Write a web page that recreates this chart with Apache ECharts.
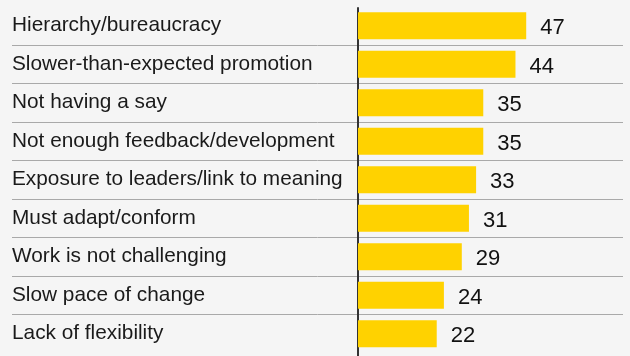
<!DOCTYPE html>
<html>
<head>
<meta charset="utf-8">
<script src="https://cdn.jsdelivr.net/npm/echarts@6/dist/echarts.min.js"></script>
<style>
  html, body { margin: 0; padding: 0; background: #f5f5f5; }
  #chart { width: 630px; height: 356px; }
</style>
</head>
<body>
<div id="chart"></div>
<script>
// Reasons given, top to bottom
const reasons = [
  'Hierarchy/bureaucracy',
  'Slower-than-expected promotion',
  'Not having a say',
  'Not enough feedback/development',
  'Exposure to leaders/link to meaning',
  'Must adapt/conform',
  'Work is not challenging',
  'Slow pace of change',
  'Lack of flexibility'
];
// Share of respondents (%)
const shares = [47, 44, 35, 35, 33, 31, 29, 24, 22];

const chart = echarts.init(document.getElementById('chart'), null, { renderer: 'canvas' });

const rowTop = 6.5;
const rowsHeight = 346.5;
const font = '"Liberation Sans", Arial, Helvetica, sans-serif';

chart.setOption({
  backgroundColor: '#f5f5f5',
  animation: false,
  grid: [
    // label column with row separators
    { left: 12, right: 7, top: rowTop, height: rowsHeight },
    // bars
    { left: 358, width: 272, top: rowTop, height: rowsHeight },
    // vertical baseline
    { left: 358, width: 1, top: 8, bottom: 0 }
  ],
  xAxis: [
    { gridIndex: 0, type: 'value', show: false, min: 0, max: 1 },
    { gridIndex: 1, type: 'value', show: false, min: 0, max: 76 },
    { gridIndex: 2, type: 'value', show: false, min: 0, max: 1 }
  ],
  yAxis: [
    {
      gridIndex: 0,
      type: 'category',
      data: reasons,
      inverse: true,
      axisLine: { show: false },
      axisTick: { show: false },
      axisLabel: {
        inside: true,
        margin: 0,
        color: '#1a1a1a',
        fontFamily: font,
        fontSize: 20.8
      },
      splitLine: {
        show: true,
        showMinLine: false,
        showMaxLine: false,
        lineStyle: { color: '#a9a9a9', width: 1 }
      }
    },
    {
      gridIndex: 1,
      type: 'category',
      data: reasons,
      inverse: true,
      show: false
    },
    {
      gridIndex: 2,
      type: 'value',
      min: 0,
      max: 1,
      axisLine: { show: true, lineStyle: { color: '#333333', width: 2 } },
      axisTick: { show: false },
      axisLabel: { show: false },
      splitLine: { show: false }
    }
  ],
  series: [
    {
      type: 'bar',
      xAxisIndex: 1,
      yAxisIndex: 1,
      data: shares,
      barWidth: 27,
      itemStyle: { color: '#ffd200' },
      label: {
        show: true,
        position: 'right',
        distance: 14,
        offset: [0, 2.5],
        color: '#111111',
        fontFamily: font,
        fontSize: 22
      }
    }
  ]
});
</script>
</body>
</html>
